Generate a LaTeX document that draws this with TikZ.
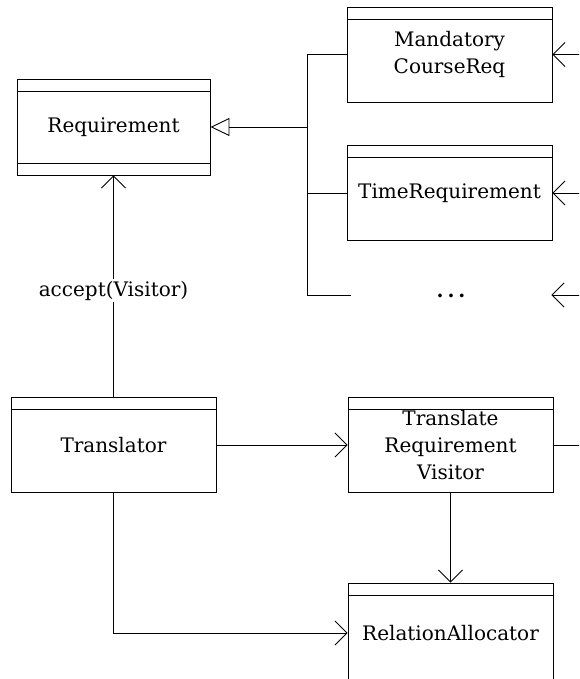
\documentclass[tikz,border=0pt]{standalone}
\usepackage{fontspec}
\setmainfont{DejaVu Serif}
\usetikzlibrary{arrows.meta}
\begin{document}
\begin{tikzpicture}[x=1pt,y=-1pt, line width=0.9pt,
  txt/.style={font=\fontsize{20}{27}\selectfont},
  cls/.style={draw, line width=0.9pt, minimum width=205pt, minimum height=95pt, inner sep=0pt, align=center, txt,
    path picture={\draw[line width=0.9pt] ([yshift=-12pt]path picture bounding box.north west) -- ([yshift=-12pt]path picture bounding box.north east);}},
  botband/.style={path picture={\draw[line width=0.9pt] ([yshift=-12pt]path picture bounding box.north west) -- ([yshift=-12pt]path picture bounding box.north east);
    \draw[line width=0.9pt] ([yshift=12pt]path picture bounding box.south west) -- ([yshift=12pt]path picture bounding box.south east);}},
  barb/.style={-{Straight Barb[length=12pt,width=24pt]}},
  gen/.style={-{Triangle[open,length=19pt,width=18pt]}}
]
\clip (0,0) rectangle (579,679);
\node[cls, botband, minimum width=193pt, minimum height=96pt] (req) at (113.5,127) {Requirement};
\node[cls] (mand) at (449.5,54.5) {Mandatory\\CourseReq};
\node[cls] (time) at (449.5,193) {TimeRequirement};
\node[txt, minimum width=200pt, inner sep=0pt] (dots) at (451,295) {\raisebox{-5pt}{\bfseries .\hspace{4pt}.\hspace{4pt}.}};
\node[cls] (trans) at (113.5,445) {Translator};
\node[cls] (trv) at (450.5,445) {Translate\\Requirement\\Visitor};
\node[cls, minimum height=100pt] (rel) at (450.5,633) {RelationAllocator};

\coordinate (ja) at (307,54.5);
\coordinate (jb) at (307,193);
\coordinate (jc) at (307,295);
\coordinate (jg) at (307,127);
\coordinate (ra) at (600,54.5);
\coordinate (rb) at (600,193);
\coordinate (rc) at (600,295);
\coordinate (rd) at (600,445);

\draw (mand.west) -- (ja) -- (jc) -- (dots.west);
\draw (time.west) -- (jb);
\draw[gen] (jg) -- (req.east);
\draw[barb] (ra) -- (mand.east);
\draw[barb] (rb) -- (time.east);
\draw[barb] (rc) -- (dots.east);
\draw (trv.east) -- (rd);
\draw[barb] (trans.north) -- node[pos=0.48, fill=white, txt, inner sep=2pt] {accept(Visitor)} (req.south);
\draw[barb] (trans.east) -- (trv.west);
\draw[barb] (trv.south) -- (rel.north);
\draw[barb] (trans.south) -- (trans.south |- rel.west) -- (rel.west);
\end{tikzpicture}
\end{document}
